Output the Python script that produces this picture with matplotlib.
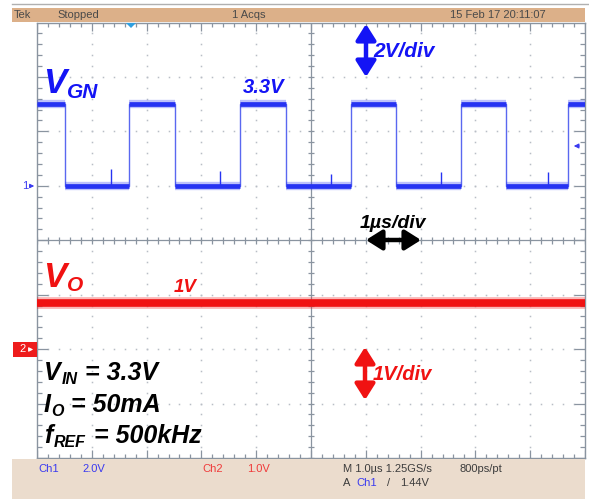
import numpy as np
import matplotlib
matplotlib.use('Agg')
import matplotlib.pyplot as plt
from matplotlib.patches import Rectangle, Polygon, FancyArrowPatch
from matplotlib.collections import LineCollection

# ---- data ----
# time axis in us (1 us/div, 10 div), ch1 2V/div ground at +1 div, ch2 1V/div ground at -2 div
vgn_edges = [0.51, 1.68, 2.51, 3.70, 4.54, 5.73, 6.55, 7.74, 8.56, 9.69]
vgn_levels = [3.0, 0.0, 3.0, 0.0, 3.0, 0.0, 3.0, 0.0, 3.0, 0.0, 3.0]
vgn_spike_t = [1.35, 3.34, 5.36, 7.38, 9.33]
vgn_spike_h = [0.62, 0.55, 0.45, 0.5, 0.5]
vo_level = 0.85

ch1_scale, ch1_offset = 2.0, 1.0
ch2_scale, ch2_offset = 1.0, -2.0

top_labels = ['Tek', 'Stopped', '1 Acqs', '15 Feb 17 20:11:07']
cond_lines = [('V', 'IN', '= 3.3V'), ('I', 'O', '= 50mA'), ('f', 'REF', '= 500kHz')]

BLUE = '#1414f5'
TRACE_BLUE = '#2633f2'
EDGE_BLUE = '#5a68f0'
RED = '#f01212'
GRAT = '#8a94a0'
DOT = '#b8bec6'

W, H = 589, 499
fig = plt.figure(figsize=(W / 100, H / 100), dpi=100)
fig.patch.set_facecolor('white')

# scope graticule area (pixels 37..585 x 22.5..458)
ax = fig.add_axes([37 / W, (H - 458) / H, 548 / W, 435.5 / H])
ax.set_xlim(0, 10)
ax.set_ylim(-4, 4)
ax.set_xticks([])
ax.set_yticks([])
for s in ax.spines.values():
    s.set_color(GRAT)
    s.set_linewidth(1.0)

# dotted division lines
xs_fine = np.arange(0, 10.001, 0.2)
ys_fine = np.arange(-4, 4.001, 0.2)
for xi in [1, 2, 3, 4, 6, 7, 8, 9]:
    ax.plot([xi] * len(ys_fine), ys_fine, ls='none', marker='s', ms=1.1, mew=0, color=DOT)
for yi in [-3, -2, -1, 1, 2, 3]:
    ax.plot(xs_fine, [yi] * len(xs_fine), ls='none', marker='s', ms=1.1, mew=0, color=DOT)

# center cross with ticks
ax.axhline(0, color=GRAT, lw=0.9)
ax.axvline(5, color=GRAT, lw=0.9)
segs = []
for x in xs_fine:
    segs.append([(x, -0.06), (x, 0.06)])
    big = abs(x - round(x)) < 1e-6
    L = 0.15 if big else 0.075
    segs.append([(x, 4), (x, 4 - L)])
    segs.append([(x, -4), (x, -4 + L)])
for y in ys_fine:
    segs.append([(4.945, y), (5.055, y)])
    big = abs(y - round(y)) < 1e-6
    L = 0.2 if big else 0.1
    segs.append([(0, y), (L, y)])
    segs.append([(10, y), (10 - L, y)])
ax.add_collection(LineCollection(segs, colors=GRAT, linewidths=0.9))

# ---- traces ----
def ch1(v):
    return np.asarray(v) / ch1_scale + ch1_offset

def ch2(v):
    return np.asarray(v) / ch2_scale + ch2_offset

seg_t = [0.0] + vgn_edges + [10.0]
ax.step(seg_t, ch1(vgn_levels + [vgn_levels[-1]]), where='post', color=EDGE_BLUE, lw=1.0, zorder=4)
ax.hlines(ch1(vgn_levels), seg_t[:-1], seg_t[1:], color=TRACE_BLUE, lw=6.0, alpha=0.3, zorder=4)
ax.hlines(ch1(vgn_levels), seg_t[:-1], seg_t[1:], color=TRACE_BLUE, lw=3.4, zorder=5)
ax.vlines(vgn_spike_t, ch1(0), ch1(vgn_spike_h), color=TRACE_BLUE, lw=1.0, zorder=5)

ax.plot([0, 10], ch2([vo_level, vo_level]), color=RED, lw=8.5, alpha=0.3, zorder=4)
ax.plot([0, 10], ch2([vo_level, vo_level]), color=RED, lw=5.5, zorder=5)

# ---- overlay in pixel coords ----
ov = fig.add_axes([0, 0, 1, 1])
ov.set_xlim(0, W)
ov.set_ylim(H, 0)
ov.axis('off')
ov.patch.set_visible(False)

ov.plot([12, W], [4, 4], color='#b0b0b0', lw=1.0)
ov.add_patch(Rectangle((12, 8), 573, 14, facecolor='#dcb089', edgecolor='none'))
ov.add_patch(Rectangle((12, 458.5), 573, 41, facecolor='#ebdccd', edgecolor='none'))

small = dict(family=['Liberation Sans Narrow', 'Liberation Sans', 'DejaVu Sans'], fontsize=8, va='center')
for lab, x in zip(top_labels, [14, 57, 232, 450]):
    ov.text(x, 15, lab, color='#4a4a4a', **small)

ov.text(38, 469, 'Ch1', color='#3a3af0', **small)
ov.text(82, 469, '2.0V', color='#3a3af0', **small)
ov.text(202, 469, 'Ch2', color='#f03a3a', **small)
ov.text(247, 469, '1.0V', color='#f03a3a', **small)
ov.text(343, 469, 'M 1.0\u00b5s 1.25GS/s', color='#3c3c3c', **small)
ov.text(460, 469, '800ps/pt', color='#3c3c3c', **small)
ov.text(343, 483, 'A', color='#3c3c3c', **small)
ov.text(356, 483, 'Ch1', color='#3a3af0', **small)
ov.text(387, 483, '/', color='#3c3c3c', **small)
ov.text(400, 483, '1.44V', color='#3c3c3c', **small)

# trigger position triangle and level arrow
ov.add_patch(Polygon([(126, 23), (136, 23), (131, 28)], closed=True, facecolor='#2e9fe0', edgecolor='none'))
ov.annotate('', xy=(571, 146), xytext=(582, 146),
            arrowprops=dict(arrowstyle='-|>', color='#3a3af0', lw=0.8, mutation_scale=7))

# channel ground markers
ov.text(22, 186, '1', color='#3a3af0', **small)
ov.annotate('', xy=(37, 186), xytext=(27, 186),
            arrowprops=dict(arrowstyle='-|>', color='#3a3af0', lw=0.8, mutation_scale=6))
ov.add_patch(Rectangle((13, 342), 24, 15, facecolor='#ee1c1c', edgecolor='none'))
ov.text(19, 349.5, '2', color='white', **small)
ov.annotate('', xy=(36, 349.5), xytext=(27, 349.5),
            arrowprops=dict(arrowstyle='-|>', color='white', lw=0.8, mutation_scale=6))

# annotations
bi = dict(family='Liberation Sans', fontweight='bold', fontstyle='italic', va='baseline')
ov.text(43, 93, 'V', color=BLUE, fontsize=25, **bi)
ov.text(67, 98, 'GN', color=BLUE, fontsize=15, **bi)
ov.text(243, 93, '3.3V', color=BLUE, fontsize=14.5, **bi)
ov.text(373, 57, '2V/div', color=BLUE, fontsize=15, **bi)

ov.text(43, 287, 'V', color=RED, fontsize=25, **bi)
ov.text(67, 291, 'O', color=RED, fontsize=15, **bi)
ov.text(174, 292, '1V', color=RED, fontsize=13.5, **bi)
ov.text(373, 380, '1V/div', color=RED, fontsize=14.5, **bi)

ov.text(360, 228, '1\u00b5s/div', color='black', fontsize=14, **bi)

def dbl_arrow(p0, p1, color):
    ov.add_patch(FancyArrowPatch(p0, p1, arrowstyle='<|-|>,head_length=0.95,head_width=0.6',
                                 mutation_scale=10, lw=3.2, color=color,
                                 shrinkA=0, shrinkB=0))

dbl_arrow((366, 24), (366, 77), BLUE)
dbl_arrow((365, 347), (365, 400), RED)
dbl_arrow((366, 240), (421, 240), 'black')

# test conditions
bases = [380, 412, 443]
sub_x = [62, 51, 54]
rest_x = [85, 71, 94]
for (main, sub, rest), yb, sx, rx in zip(cond_lines, bases, sub_x, rest_x):
    ov.text(44, yb, main, color='black', fontsize=18, **bi)
    ov.text(sx, yb + 4, sub, color='black', fontsize=11.5, **bi)
    ov.text(rx, yb, rest, color='black', fontsize=18, **bi)

fig.savefig('out.png', dpi=100)
